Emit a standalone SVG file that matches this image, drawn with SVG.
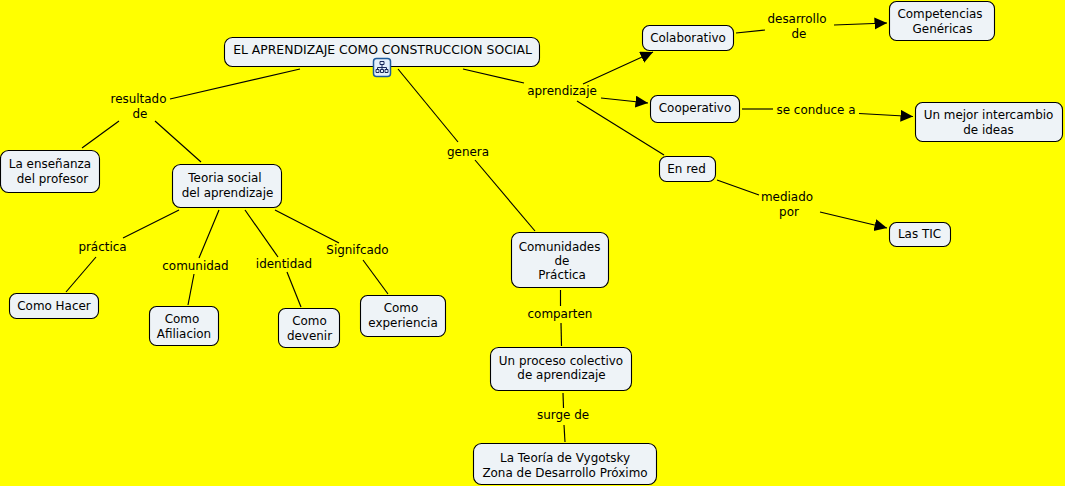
<svg xmlns="http://www.w3.org/2000/svg" width="1065" height="486" viewBox="0 0 1065 486">
<style>
.n rect{fill:#eef3f7;stroke:#000;stroke-width:1.100}
text{font-family:"DejaVu Sans",Verdana,sans-serif;font-size:11.950px;fill:#000;text-anchor:middle}
#main text{font-size:12.400px}
.c line{stroke:#000;stroke-width:1.150;fill:none}
.c line.a{marker-end:url(#arr)}
</style>
<defs><marker id="arr" markerUnits="userSpaceOnUse" markerWidth="14" markerHeight="13" refX="12.500" refY="6" orient="auto"><path d="M0 0L12.500 6L0 12Z" fill="#000"/></marker></defs>
<rect width="1065" height="486" fill="#ffff00"/>
<g class="c" id="connectors">
<line x1="300" y1="69" x2="170" y2="99"/>
<line x1="119" y1="121" x2="82" y2="148"/>
<line x1="155" y1="121" x2="201" y2="162"/>
<line x1="398" y1="69" x2="458" y2="142"/>
<line x1="475" y1="160" x2="535" y2="231"/>
<line x1="463" y1="69" x2="524" y2="83"/>
<line x1="583" y1="84" x2="653" y2="52" class="a"/>
<line x1="601" y1="98" x2="648" y2="103" class="a"/>
<line x1="577" y1="101" x2="664" y2="155"/>
<line x1="736" y1="33" x2="765" y2="30"/>
<line x1="834" y1="25" x2="887" y2="23" class="a"/>
<line x1="742" y1="109" x2="773" y2="109"/>
<line x1="859" y1="113.500" x2="913" y2="116.500" class="a"/>
<line x1="717" y1="180" x2="759" y2="195"/>
<line x1="820" y1="212" x2="887" y2="228" class="a"/>
<line x1="179" y1="210" x2="123" y2="238"/>
<line x1="96" y1="257" x2="66" y2="292"/>
<line x1="219" y1="210" x2="199" y2="258"/>
<line x1="194" y1="274" x2="188" y2="305"/>
<line x1="245" y1="210" x2="278" y2="257"/>
<line x1="287" y1="272" x2="301" y2="307"/>
<line x1="275" y1="210" x2="339" y2="243"/>
<line x1="363" y1="260" x2="388" y2="294"/>
<line x1="560.500" y1="290" x2="560.500" y2="306"/>
<line x1="561" y1="323" x2="561.500" y2="346"/>
<line x1="563" y1="393" x2="563.500" y2="408"/>
<line x1="564" y1="425" x2="565" y2="442"/>
</g>
<g class="n" id="main"><rect x="224.500" y="37.500" width="315" height="29" rx="8"/><text x="382.500" y="54">EL APRENDIZAJE COMO CONSTRUCCION SOCIAL</text></g>
<g id="icon"><rect x="373.500" y="58.500" width="17" height="18" rx="3" fill="#e4f0fb" stroke="#1c5a9c" stroke-width="1.500"/><path d="M380 61.500h4v3h-4zM382 64.500v3M377.500 67.500h9M377.500 67.500v2M386.500 67.500v2M382 67.500v2M376 69.500h3v3h-3zM380.500 69.500h3v3h-3zM385 69.500h3v3h-3z" fill="none" stroke="#1a2a5a" stroke-width="1"/></g>
<g class="n" id="colab"><rect x="642.500" y="25.500" width="91" height="25" rx="7"/><text x="688" y="42">Colaborativo</text></g>
<g class="n" id="comp"><rect x="889.500" y="1.500" width="105" height="39" rx="7"/><text x="940" y="18">Competencias</text><text x="942.500" y="33">Genéricas</text></g>
<g class="n" id="coop"><rect x="650.500" y="95.500" width="89" height="27" rx="7"/><text x="695" y="112">Cooperativo</text></g>
<g class="n" id="mejor"><rect x="915.500" y="102.500" width="147" height="39" rx="7"/><text x="988.500" y="119">Un mejor intercambio</text><text x="988.500" y="134">de ideas</text></g>
<g class="n" id="red"><rect x="659.500" y="156.500" width="56" height="25" rx="7"/><text x="686.500" y="173">En red</text></g>
<g class="n" id="tic"><rect x="889.500" y="222.500" width="61" height="24" rx="7"/><text x="919.500" y="238">Las TIC</text></g>
<g class="n" id="ensenanza"><rect x="0.500" y="150.500" width="99" height="42" rx="8"/><text x="50" y="168">La enseñanza</text><text x="52.500" y="183">del profesor</text></g>
<g class="n" id="teoria"><rect x="172.500" y="164.500" width="109" height="43" rx="8"/><text x="225" y="182">Teoria social</text><text x="227.500" y="197">del aprendizaje</text></g>
<g class="n" id="hacer"><rect x="9.500" y="293.500" width="89" height="25" rx="7"/><text x="54" y="310">Como Hacer</text></g>
<g class="n" id="afil"><rect x="149.500" y="306.500" width="69" height="39" rx="7"/><text x="182" y="323">Como</text><text x="184" y="338">Afiliacion</text></g>
<g class="n" id="devenir"><rect x="278.500" y="308.500" width="61" height="39" rx="7"/><text x="309.500" y="325">Como</text><text x="309.500" y="339.500">devenir</text></g>
<g class="n" id="exper"><rect x="360.500" y="295.500" width="85" height="41" rx="7"/><text x="401" y="312">Como</text><text x="403" y="327">experiencia</text></g>
<g class="n" id="comunidades"><rect x="511.500" y="232.500" width="97" height="55" rx="8"/><text x="559.500" y="250.500">Comunidades</text><text x="562" y="264.500">de</text><text x="562" y="279">Práctica</text></g>
<g class="n" id="proceso"><rect x="490.500" y="347.500" width="141" height="43" rx="8"/><text x="561" y="365">Un proceso colectivo</text><text x="561.500" y="379">de aprendizaje</text></g>
<g class="n" id="vygotsky"><rect x="473.500" y="443.500" width="183" height="41" rx="8"/><text x="565" y="462">La Teoría de Vygotsky</text><text x="565" y="476.500">Zona de Desarrollo Próximo</text></g>
<g id="labels">
<text x="138.500" y="103">resultado</text><text x="140" y="118">de</text>
<text x="468" y="156">genera</text>
<text x="562" y="95">aprendizaje</text>
<text x="797" y="23">desarrollo</text><text x="799" y="38">de</text>
<text x="816" y="114">se conduce a</text>
<text x="787" y="201">mediado</text><text x="789" y="216">por</text>
<text x="102.500" y="251">práctica</text>
<text x="195.500" y="270">comunidad</text>
<text x="284" y="268">identidad</text>
<text x="357.500" y="254">Signifcado</text>
<text x="560" y="318">comparten</text>
<text x="563" y="419">surge de</text>
</g>
</svg>
